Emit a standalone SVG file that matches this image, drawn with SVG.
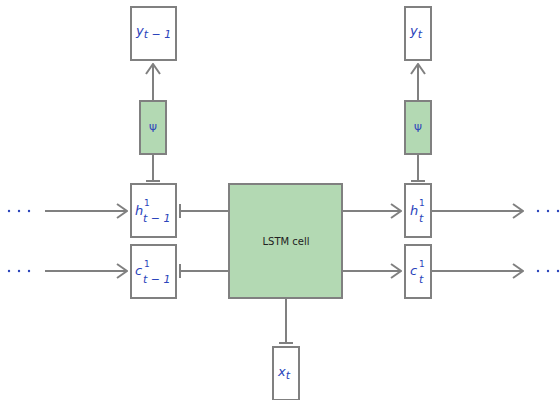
<svg xmlns="http://www.w3.org/2000/svg" width="560" height="400" viewBox="0 0 560 400">
<defs>
<style>
.box{fill:#fff;stroke:#808080;stroke-width:2}
.grn{fill:#b3d9b3;stroke:#808080;stroke-width:2}
.ln{fill:none;stroke:#808080;stroke-width:2}
.t{font-family:"DejaVu Sans",sans-serif;font-style:italic;fill:#2b44bb;font-size:13px}
.s{font-size:9px;font-style:normal}
.sub{font-size:11px}
.dot{fill:#2b44bb}
</style>
<marker id="arr" viewBox="0 0 12 16" refX="11" refY="8" markerWidth="12" markerHeight="16" markerUnits="userSpaceOnUse" orient="auto">
<path d="M1,1 L11,8 L1,15" fill="none" stroke="#808080" stroke-width="2"/>
</marker>
<marker id="bar" viewBox="0 0 4 14" refX="2" refY="7" markerWidth="4" markerHeight="14" markerUnits="userSpaceOnUse" orient="auto">
<path d="M2,0 L2,14" stroke="#808080" stroke-width="2"/>
</marker>
</defs>
<g id="connectors">
<line class="ln" x1="45" y1="211" x2="127" y2="211" marker-end="url(#arr)"/>
<line class="ln" x1="45" y1="271" x2="127" y2="271" marker-end="url(#arr)"/>
<line class="ln" x1="229" y1="211" x2="180" y2="211" marker-end="url(#bar)"/>
<line class="ln" x1="229" y1="271" x2="180" y2="271" marker-end="url(#bar)"/>
<line class="ln" x1="342" y1="211" x2="401" y2="211" marker-end="url(#arr)"/>
<line class="ln" x1="342" y1="271" x2="401" y2="271" marker-end="url(#arr)"/>
<line class="ln" x1="431" y1="211" x2="523" y2="211" marker-end="url(#arr)"/>
<line class="ln" x1="431" y1="271" x2="523" y2="271" marker-end="url(#arr)"/>
<line class="ln" x1="153" y1="154" x2="153" y2="181" marker-end="url(#bar)"/>
<line class="ln" x1="418" y1="154" x2="418" y2="181" marker-end="url(#bar)"/>
<line class="ln" x1="153" y1="101" x2="153" y2="64" marker-end="url(#arr)"/>
<line class="ln" x1="418" y1="101" x2="418" y2="64" marker-end="url(#arr)"/>
<line class="ln" x1="286" y1="298" x2="286" y2="343" marker-end="url(#bar)"/>
</g>
<g id="dotsL1"><circle class="dot" cx="9" cy="211" r="1.2"/><circle class="dot" cx="19" cy="211" r="1.2"/><circle class="dot" cx="29" cy="211" r="1.2"/></g>
<g id="dotsL2"><circle class="dot" cx="9" cy="271" r="1.2"/><circle class="dot" cx="19" cy="271" r="1.2"/><circle class="dot" cx="29" cy="271" r="1.2"/></g>
<g id="dotsR1"><circle class="dot" cx="538" cy="211" r="1.2"/><circle class="dot" cx="548" cy="211" r="1.2"/><circle class="dot" cx="558" cy="211" r="1.2"/></g>
<g id="dotsR2"><circle class="dot" cx="538" cy="271" r="1.2"/><circle class="dot" cx="548" cy="271" r="1.2"/><circle class="dot" cx="558" cy="271" r="1.2"/></g>
<g id="y_tm1"><rect class="box" x="131" y="7" width="45" height="53"/><text class="t" x="136" y="35">y<tspan class="sub" dy="3">t − 1</tspan></text></g>
<g id="psi_l"><rect class="grn" x="140" y="101" width="26" height="53"/><text class="t" x="153" y="132" text-anchor="middle" style="font-style:normal;font-size:10px">Ψ</text></g>
<g id="h_tm1"><rect class="box" x="131" y="184" width="45" height="53"/><text class="t" x="135" y="215">h</text><text class="t s" x="144" y="206">1</text><text class="t sub" x="143" y="222">t − 1</text></g>
<g id="c_tm1"><rect class="box" x="131" y="245" width="45" height="53"/><text class="t" x="135" y="275">c</text><text class="t s" x="144" y="267">1</text><text class="t sub" x="143" y="283">t − 1</text></g>
<g id="lstm"><rect class="grn" x="229" y="184" width="113" height="114"/><text x="286" y="245" text-anchor="middle" style="font-family:'DejaVu Sans',sans-serif;font-size:10px;fill:#222">LSTM cell</text></g>
<g id="x_t"><rect class="box" x="273" y="347" width="26" height="53"/><text class="t" x="278" y="376">x<tspan class="sub" dy="3">t</tspan></text></g>
<g id="y_t"><rect class="box" x="405" y="7" width="26" height="53"/><text class="t" x="410" y="35">y<tspan class="sub" dy="3">t</tspan></text></g>
<g id="psi_r"><rect class="grn" x="405" y="101" width="26" height="53"/><text class="t" x="418" y="132" text-anchor="middle" style="font-style:normal;font-size:10px">Ψ</text></g>
<g id="h_t"><rect class="box" x="405" y="184" width="26" height="53"/><text class="t" x="410" y="215">h</text><text class="t s" x="419" y="206">1</text><text class="t sub" x="419" y="222">t</text></g>
<g id="c_t"><rect class="box" x="405" y="245" width="26" height="53"/><text class="t" x="410" y="275">c</text><text class="t s" x="419" y="267">1</text><text class="t sub" x="419" y="283">t</text></g>
</svg>
